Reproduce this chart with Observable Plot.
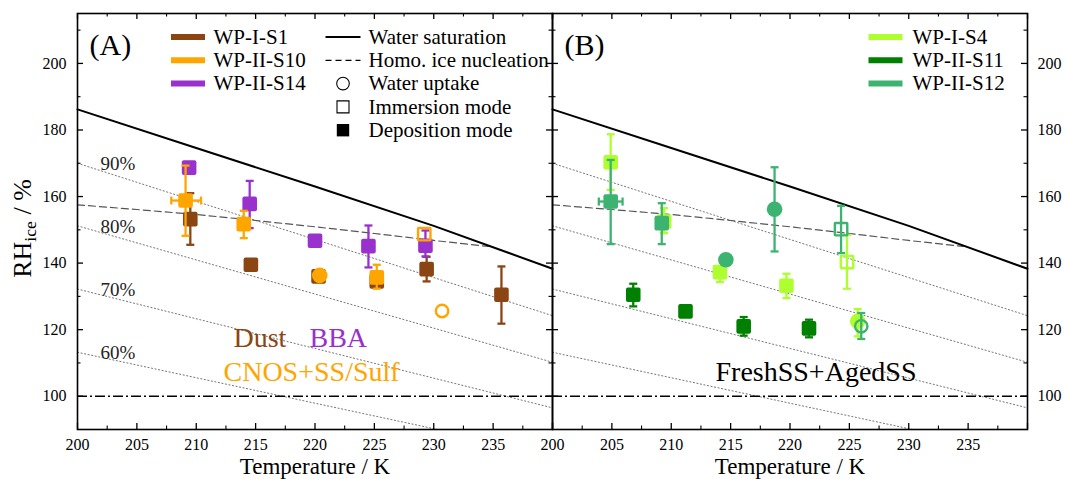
<!DOCTYPE html>
<html>
<head>
<meta charset="utf-8">
<script src="https://cdn.jsdelivr.net/npm/d3@7"></script>
<script src="https://cdn.jsdelivr.net/npm/@observablehq/plot@0.6"></script>
<style>
  html, body { margin: 0; padding: 0; background: #fff; }
  #chart { width: 1065px; height: 479px; }
</style>
</head>
<body>
<div id="chart"></div>
<script>
// ---------------- data ----------------
const xMajor = [200, 205, 210, 215, 220, 225, 230, 235, 240];
const xMinor = [202.5, 207.5, 212.5, 217.5, 222.5, 227.5, 232.5, 237.5];
const xLabels = [200, 205, 210, 215, 220, 225, 230, 235];
const yMajor = [100, 120, 140, 160, 180, 200];
const yMinor = [110, 130, 150, 170, 190, 210];

// water saturation (solid)
const wsatT = [200, 210, 220, 230, 240];
const wsatRH = [186.2, 174.6, 163.0, 151.2, 138.3];
// homogeneous ice nucleation (dashed)
const homoT = [200, 205, 210, 215, 220, 225, 230, 234.6];
const homoRH = [157.5, 156.1, 154.6, 152.8, 150.9, 148.9, 146.8, 145.0];
// RHw iso-lines (dotted), value at 200 K and 240 K
const rhwLabels = ["90%", "80%", "70%", "60%"];
const rhwAt200 = [170.0, 151.2, 132.2, 113.2];
const rhwAt240 = [124.2, 110.2, 96.5, 82.6];

// Panel A
const s1T   = [209.5, 214.6, 220.3, 225.2, 229.4, 235.7];
const s1RH  = [153.2, 139.5, 136.0, 134.5, 138.2, 130.5];
const s1Sym = ["sq", "sq", "sq", "sq", "sq", "sq"];
const s1Lo  = [145.5, null, null, null, 134.5, 121.8];
const s1Hi  = [161.0, null, null, null, 141.9, 139.0];

const s10T   = [209.1, 214.0, 220.4, 225.2, 229.2, 230.7];
const s10RH  = [158.8, 151.7, 136.3, 135.7, 148.7, 125.6];
const s10Sym = ["sq", "sq", "circ", "sq", "osq", "ocirc"];
const s10Lo  = [148.2, 147.5, null, 132.3, null, null];
const s10Hi  = [169.3, 155.7, null, 139.5, null, null];
const s10XLo = [207.9, null, null, null, null, null];
const s10XHi = [210.4, null, null, null, null, null];

const s14T   = [209.4, 214.5, 220.0, 224.5, 229.3];
const s14RH  = [168.7, 157.8, 146.7, 145.1, 145.2];
const s14Sym = ["sq", "sq", "sq", "sq", "sq"];
const s14Lo  = [null, 150.5, null, 138.7, 142.0];
const s14Hi  = [null, 164.7, null, 151.3, 149.8];

// Panel B
const s4T   = [204.9, 209.4, 214.1, 219.7, 224.8, 225.7];
const s4RH  = [170.3, 152.5, 137.3, 133.2, 140.3, 122.5];
const s4Sym = ["sq", "sq", "sq", "sq", "osq", "circ"];
const s4Lo  = [162.0, 149.0, 134.3, 129.5, 132.3, 118.0];
const s4Hi  = [178.7, 156.5, 139.0, 136.8, 148.5, 126.2];

const s11T   = [206.8, 211.2, 216.1, 221.6];
const s11RH  = [130.5, 125.5, 121.0, 120.4];
const s11Sym = ["sq", "sq", "sq", "sq"];
const s11Lo  = [127.0, null, 118.2, 117.7];
const s11Hi  = [133.8, null, 123.8, 123.0];

const s12T   = [204.9, 209.2, 214.6, 218.7, 224.3, 226.0];
const s12RH  = [158.5, 152.0, 141.0, 156.2, 150.2, 121.0];
const s12Sym = ["sq", "sq", "circ", "circ", "osq", "ocirc"];
const s12Lo  = [145.7, 145.7, null, 143.5, 143.0, 117.2];
const s12Hi  = [171.0, 158.0, null, 168.8, 157.2, 125.0];
const s12XLo = [203.9, null, null, null, null, null];
const s12XHi = [205.9, null, null, null, null, null];

const legendA = ["WP-I-S1", "WP-II-S10", "WP-II-S14"];
const legendB = ["WP-I-S4", "WP-II-S11", "WP-II-S12"];
const colorsA = ["#8B4513", "#FFA500", "#9932CC"];
const colorsB = ["#ADFF2F", "#008000", "#3CB371"];
const keyLabels = ["Water saturation", "Homo. ice nucleation", "Water uptake", "Immersion mode", "Deposition mode"];

// ---------------- tables ----------------
function rows(panel, color, T, RH, sym, lo, hi, xlo, xhi) {
  return T.map((t, i) => ({panel, color, T: t, RH: RH[i], sym: sym[i], lo: lo[i], hi: hi[i],
    xlo: xlo ? xlo[i] : null, xhi: xhi ? xhi[i] : null}));
}
const seriesInOrder = [
  rows("A", colorsA[0], s1T, s1RH, s1Sym, s1Lo, s1Hi),
  rows("A", colorsA[2], s14T, s14RH, s14Sym, s14Lo, s14Hi),
  rows("A", colorsA[1], s10T, s10RH, s10Sym, s10Lo, s10Hi, s10XLo, s10XHi),
  rows("B", colorsB[0], s4T, s4RH, s4Sym, s4Lo, s4Hi),
  rows("B", colorsB[1], s11T, s11RH, s11Sym, s11Lo, s11Hi),
  rows("B", colorsB[2], s12T, s12RH, s12Sym, s12Lo, s12Hi, s12XLo, s12XHi)
];
const wsat = wsatT.map((t, i) => ({T: t, RH: wsatRH[i]}));
const homo = homoT.map((t, i) => ({T: t, RH: homoRH[i]}));
const rhw = rhwLabels.flatMap((k, i) => [{k, T: 200, RH: rhwAt200[i]}, {k, T: 240, RH: rhwAt240[i]}]);
const rhwText = rhwLabels.map((k, i) => ({panel: "A", k, T: 200, RH: rhwAt200[i]}));

// ---------------- symbols ----------------
function rrect(h, r) {
  return {draw(ctx) {
    ctx.moveTo(-h + r, -h); ctx.lineTo(h - r, -h); ctx.arcTo(h, -h, h, -h + r, r);
    ctx.lineTo(h, h - r); ctx.arcTo(h, h, h - r, h, r);
    ctx.lineTo(-h + r, h); ctx.arcTo(-h, h, -h, h - r, r);
    ctx.lineTo(-h, -h + r); ctx.arcTo(-h, -h, -h + r, -h, r); ctx.closePath();
  }};
}
const hline = (h) => ({draw(ctx) { ctx.moveTo(-h, 0); ctx.lineTo(h, 0); }});
const vline = (h) => ({draw(ctx) { ctx.moveTo(0, -h); ctx.lineTo(0, h); }});
const sqFill = rrect(7.3, 2);
const sqOpen = rrect(6.2, 0.5);

// ---------------- geometry helpers ----------------
const W = 1065, H = 479, mL = 77, mR = 38, mT = 13, mB = 50;
const ppuX = ((W - mL - mR) / 2) / 40;
const ppuY = (H - mT - mB) / 125;
const majLen = 6, minLen = 3.5;

const marks = [];
// dotted RHw lines
marks.push(Plot.line(rhw, {x: "T", y: "RH", z: "k", stroke: "#777", strokeWidth: 1, strokeDasharray: "1.2,2.4", clip: true}));
marks.push(Plot.text(rhwText, {fx: "panel", x: "T", y: "RH", text: "k", dx: 23, dy: 1, textAnchor: "start", fontSize: 19, fill: "#222"}));
// 100% ice line
marks.push(Plot.ruleY([100], {stroke: "black", strokeWidth: 1.5, strokeDasharray: "10,3,2,3"}));
// homogeneous nucleation
marks.push(Plot.line(homo, {x: "T", y: "RH", stroke: "#555", strokeWidth: 1.2, strokeDasharray: "7,4"}));
// water saturation
marks.push(Plot.line(wsat, {x: "T", y: "RH", stroke: "black", strokeWidth: 2}));

// data series
for (const data of seriesInOrder) {
  const v = data.filter(d => d.lo != null);
  const h = data.filter(d => d.xlo != null);
  marks.push(Plot.ruleX(v, {fx: "panel", x: "T", y1: "lo", y2: "hi", stroke: "color", strokeWidth: 2.3}));
  marks.push(Plot.dot(v, {fx: "panel", x: "T", y: "lo", symbol: hline(4), stroke: "color", strokeWidth: 2.3}));
  marks.push(Plot.dot(v, {fx: "panel", x: "T", y: "hi", symbol: hline(4), stroke: "color", strokeWidth: 2.3}));
  marks.push(Plot.ruleY(h, {fx: "panel", y: "RH", x1: "xlo", x2: "xhi", stroke: "color", strokeWidth: 2.3}));
  marks.push(Plot.dot(h, {fx: "panel", x: "xlo", y: "RH", symbol: vline(4), stroke: "color", strokeWidth: 2.3}));
  marks.push(Plot.dot(h, {fx: "panel", x: "xhi", y: "RH", symbol: vline(4), stroke: "color", strokeWidth: 2.3}));
  marks.push(Plot.dot(data.filter(d => d.sym === "sq"), {fx: "panel", x: "T", y: "RH", symbol: sqFill, fill: "color"}));
  marks.push(Plot.dot(data.filter(d => d.sym === "circ"), {fx: "panel", x: "T", y: "RH", r: 7.8, fill: "color"}));
  marks.push(Plot.dot(data.filter(d => d.sym === "osq"), {fx: "panel", x: "T", y: "RH", symbol: sqOpen, stroke: "color", strokeWidth: 2.4, fill: "none"}));
  marks.push(Plot.dot(data.filter(d => d.sym === "ocirc"), {fx: "panel", x: "T", y: "RH", r: 6.2, stroke: "color", strokeWidth: 2.4, fill: "none"}));
}

// inward ticks
marks.push(Plot.ruleX(xMajor, {x: d => d, y1: 90, y2: 90 + majLen / ppuY, stroke: "black", strokeWidth: 1.3}));
marks.push(Plot.ruleX(xMinor, {x: d => d, y1: 90, y2: 90 + minLen / ppuY, stroke: "black", strokeWidth: 1.1}));
marks.push(Plot.ruleX(xMajor, {x: d => d, y1: 215 - majLen / ppuY, y2: 215, stroke: "black", strokeWidth: 1.3}));
marks.push(Plot.ruleX(xMinor, {x: d => d, y1: 215 - minLen / ppuY, y2: 215, stroke: "black", strokeWidth: 1.1}));
marks.push(Plot.ruleY(yMajor, {y: d => d, x1: 200, x2: 200 + majLen / ppuX, stroke: "black", strokeWidth: 1.3}));
marks.push(Plot.ruleY(yMinor, {y: d => d, x1: 200, x2: 200 + minLen / ppuX, stroke: "black", strokeWidth: 1.1}));
marks.push(Plot.ruleY(yMajor, {y: d => d, x1: 240 - majLen / ppuX, x2: 240, stroke: "black", strokeWidth: 1.3}));
marks.push(Plot.ruleY(yMinor, {y: d => d, x1: 240 - minLen / ppuX, x2: 240, stroke: "black", strokeWidth: 1.1}));
marks.push(Plot.frame({stroke: "black", strokeWidth: 1.6}));

// axes
marks.push(Plot.axisX(xLabels, {anchor: "bottom", tickSize: 0, tickPadding: 9, label: null, fontSize: 16}));
marks.push(Plot.axisY(yMajor, {anchor: "left", tickSize: 0, tickPadding: 11, label: null, fontSize: 16}));
marks.push(Plot.axisY(yMajor, {anchor: "right", tickSize: 0, tickPadding: 10, label: null, fontSize: 16}));

// annotations
const ann = (panel, opts) => Plot.text([{panel}], {fx: "panel", frameAnchor: "top-left", textAnchor: "start", lineAnchor: "middle", ...opts});
marks.push(Plot.text(["A", "B"].map(p => ({panel: p})), {fx: "panel", frameAnchor: "bottom", textAnchor: "middle", lineAnchor: "middle", text: () => "Temperature / K", dy: 37, fontSize: 23}));
marks.push(Plot.text([{panel: "A"}], {fx: "panel", frameAnchor: "left", textAnchor: "middle", lineAnchor: "middle", text: () => "RHice / %", dx: -55, dy: 7, rotate: -90, fontSize: 26}));
marks.push(ann("A", {text: () => "(A)", dx: 12, dy: 32, fontSize: 30}));
marks.push(ann("B", {text: () => "(B)", dx: 12, dy: 32, fontSize: 30}));
marks.push(ann("A", {text: () => "Dust", dx: 156, dy: 325, fontSize: 28, fill: colorsA[0]}));
marks.push(ann("A", {text: () => "BBA", dx: 232, dy: 325, fontSize: 28, fill: colorsA[2]}));
marks.push(ann("A", {text: () => "CNOS+SS/Sulf", dx: 146, dy: 359, fontSize: 28, fill: colorsA[1]}));
marks.push(ann("B", {text: () => "FreshSS+AgedSS", dx: 163, dy: 359, fontSize: 28, fill: "black"}));

// legends
const rowDy = [23.5, 46.8, 70.1, 93.4, 116.7];
legendA.forEach((name, i) => {
  marks.push(Plot.dot([{panel: "A"}], {fx: "panel", frameAnchor: "top-left", dx: 110.5, dy: rowDy[i], symbol: hline(17), stroke: colorsA[i], strokeWidth: 6}));
  marks.push(ann("A", {text: () => name, dx: 136, dy: rowDy[i], fontSize: 21}));
});
legendB.forEach((name, i) => {
  marks.push(Plot.dot([{panel: "B"}], {fx: "panel", frameAnchor: "top-left", dx: 333, dy: rowDy[i], symbol: hline(17), stroke: colorsB[i], strokeWidth: 6}));
  marks.push(ann("B", {text: () => name, dx: 360, dy: rowDy[i], fontSize: 21}));
});
const keyX = 265.5;
marks.push(Plot.dot([{panel: "A"}], {fx: "panel", frameAnchor: "top-left", dx: keyX, dy: rowDy[0], symbol: hline(17.5), stroke: "black", strokeWidth: 1.8}));
marks.push(Plot.dot([{panel: "A"}], {fx: "panel", frameAnchor: "top-left", dx: keyX, dy: rowDy[1], symbol: hline(17.5), stroke: "black", strokeWidth: 1.3, strokeDasharray: "6,4"}));
marks.push(Plot.dot([{panel: "A"}], {fx: "panel", frameAnchor: "top-left", dx: keyX, dy: rowDy[2], r: 6.3, stroke: "black", strokeWidth: 1.1, fill: "none"}));
marks.push(Plot.dot([{panel: "A"}], {fx: "panel", frameAnchor: "top-left", dx: keyX, dy: rowDy[3], symbol: rrect(6, 0), stroke: "black", strokeWidth: 1.1, fill: "none"}));
marks.push(Plot.dot([{panel: "A"}], {fx: "panel", frameAnchor: "top-left", dx: keyX, dy: rowDy[4], symbol: rrect(6.2, 0), fill: "black"}));
keyLabels.forEach((name, i) => {
  marks.push(ann("A", {text: () => name, dx: 291, dy: rowDy[i], fontSize: 21}));
});

const svg = Plot.plot({
  width: W, height: H,
  marginLeft: mL, marginRight: mR, marginTop: mT, marginBottom: mB,
  x: {domain: [200, 240]},
  y: {domain: [90, 215]},
  fx: {domain: ["A", "B"], padding: 0, axis: null},
  style: {fontFamily: "'Liberation Serif', serif", fontSize: "16px", color: "black", background: "white"},
  marks
});

// subscript in the y label
d3.select(svg).selectAll("text").each(function() {
  if (this.textContent === "RHice / %") {
    const t = d3.select(this);
    t.text(null);
    t.append("tspan").text("RH");
    t.append("tspan").attr("font-size", "0.68em").attr("dy", "5").text("ice");
    t.append("tspan").attr("dy", "-5").text(" / %");
  }
});
document.getElementById("chart").appendChild(svg);
</script>
</body>
</html>
